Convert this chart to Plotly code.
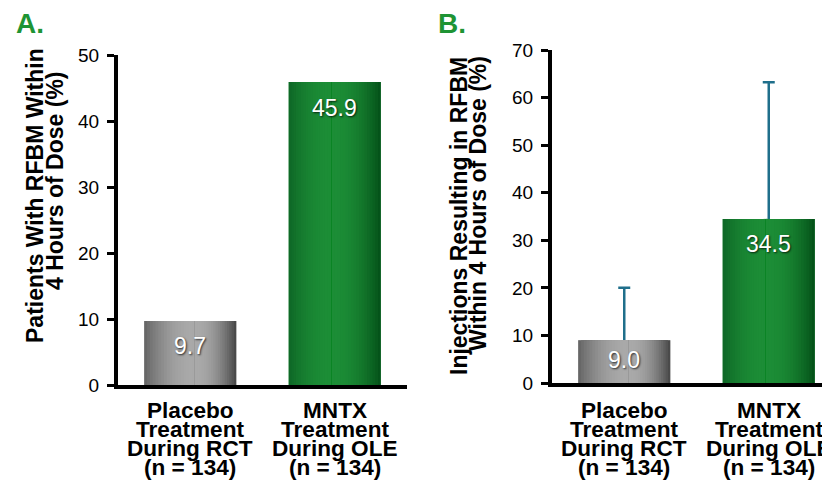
import plotly.graph_objects as go

FIG_W, FIG_H = 830, 485
PAGE_OFF = 8  # the page body margin shifts the figure by this many pixels

# ---------------- data ----------------
categories = ["Placebo Treatment During RCT (n = 134)", "MNTX Treatment During OLE (n = 134)"]
category_label_lines = [
    ["Placebo", "Treatment", "During RCT", "(n = 134)"],
    ["MNTX", "Treatment", "During OLE", "(n = 134)"],
]
patients_rfbm_pct = [9.7, 45.9]
injections_rfbm_pct = [9.0, 34.5]
injections_err_plus = [11.0, 28.7]
patients_labels = ["9.7", "45.9"]
injections_labels = ["9.0", "34.5"]
yticks_a = [0, 10, 20, 30, 40, 50]
yticks_b = [0, 10, 20, 30, 40, 50, 60, 70]
title_a_lines = ["Patients With RFBM Within", "4 Hours of Dose (%)"]
title_b_lines = ["Injections Resulting in RFBM", "Within 4 Hours of Dose (%)"]
panel_letters = ["A.", "B."]

# ---------------- style ----------------
FONT = "Liberation Sans, Arial, Helvetica, sans-serif"
GREEN_TXT = "#1e9434"
ERR_COLOR = "#1f6f8b"
BAR_W = 0.637
# (left edge, peak, right edge, peak position as fraction of bar width)
GRADS = [
    ("#676767", "#a9a9a9", "#4a4a4a", 0.55),
    ("#0f6927", "#1c8d36", "#05531a", 0.47),
]
N_LAYERS = 18

# on-screen pixel geometry of the two plot areas
A_X = (118, 407)
A_Y = (55, 385)
B_X = (552, 838)
B_Y = (50, 383)
CAT_PX = 144.5


def px_x(px):
    return (px - PAGE_OFF) / FIG_W


def px_y(py):
    return 1 - (py - PAGE_OFF) / FIG_H


def hex2rgb(h):
    h = h.lstrip("#")
    return tuple(int(h[i:i + 2], 16) for i in (0, 2, 4))


def lerp(c1, c2, t):
    a, b = hex2rgb(c1), hex2rgb(c2)
    return "rgb(%d,%d,%d)" % tuple(round(a[i] + (b[i] - a[i]) * t) for i in range(3))


fig = go.Figure()


def add_bars(xa, ya, values, err_plus=None):
    base = dict(
        x=categories, y=values, xaxis=xa, yaxis=ya, hoverinfo="skip",
        showlegend=False,
    )
    err = None
    if err_plus is not None:
        err = dict(type="data", symmetric=False, array=err_plus, arrayminus=values,
                   color=ERR_COLOR, thickness=2.5, width=6)
    fig.add_trace(go.Bar(**base, width=BAR_W,
                         marker=dict(color=[g[1] for g in GRADS], line=dict(width=0)),
                         error_y=err))
    eps = 0.006
    for side in ("L", "R"):
        for k in range(N_LAYERS):
            f = k / N_LAYERS
            t = k / (N_LAYERS - 1)
            te = 1 - (1 - t) ** 2  # smooth (rounded) peak
            offs, wids, cols = [], [], []
            for (cl, cp, cr, a) in GRADS:
                if side == "L":
                    offs.append(-BAR_W / 2 + f * a * BAR_W)
                    wids.append(a * BAR_W * (1 - f) + eps)
                    cols.append(lerp(cl, cp, te))
                else:
                    offs.append(-BAR_W / 2 + a * BAR_W)
                    wids.append((1 - a) * BAR_W * (1 - f))
                    cols.append(lerp(cr, cp, te))
            fig.add_trace(go.Bar(**base, offset=offs, width=wids,
                                 marker=dict(color=cols, line=dict(width=0))))


add_bars("x", "y", patients_rfbm_pct)
add_bars("x2", "y2", injections_rfbm_pct, injections_err_plus)

axis_common = dict(showline=True, linecolor="black", linewidth=4, showgrid=False,
                   zeroline=False, fixedrange=True, automargin=False)
yaxis_common = dict(axis_common, ticks="outside", ticklen=7, tickwidth=3, tickcolor="black",
                    tickfont=dict(family=FONT, size=19, color="black"), ticklabelstandoff=4)

fig.update_layout(
    width=FIG_W, height=FIG_H,
    margin=dict(l=0, r=0, t=0, b=0, pad=0, autoexpand=False),
    paper_bgcolor="white", plot_bgcolor="rgba(0,0,0,0)", barmode="overlay",
    showlegend=False,
    xaxis=dict(axis_common, domain=[px_x(A_X[0]), px_x(A_X[1])], type="category",
               range=[-0.5, -0.5 + (A_X[1] - A_X[0]) / CAT_PX], ticks="", showticklabels=False,
               anchor="y"),
    yaxis=dict(yaxis_common, domain=[px_y(A_Y[1]), px_y(A_Y[0])], range=[0, 50],
               tickvals=yticks_a, anchor="x"),
    xaxis2=dict(axis_common, domain=[px_x(B_X[0]), min(1, px_x(B_X[1]))], type="category",
                range=[-0.5, -0.5 + (min(B_X[1], FIG_W + PAGE_OFF) - B_X[0]) / CAT_PX],
                ticks="", showticklabels=False, anchor="y2"),
    yaxis2=dict(yaxis_common, domain=[px_y(B_Y[1]), px_y(B_Y[0])], range=[0, 70],
                tickvals=yticks_b, anchor="x2"),
)

ann = []
# panel letters
for letter, lx in zip(panel_letters, (14, 436)):
    ann.append(dict(text=letter, x=px_x(lx), y=px_y(23), xref="paper", yref="paper",
                    xanchor="left", yanchor="middle", showarrow=False,
                    font=dict(family=FONT, size=28, color=GREEN_TXT, weight="bold")))

# rotated axis titles (two tight lines each)
for lines, centers in ((title_a_lines, [(35, 196), (55, 181)]),
                       (title_b_lines, [(459, 216), (478, 204)])):
    for line, (cx, cy) in zip(lines, centers):
        ann.append(dict(text=line, x=px_x(cx), y=px_y(cy), xref="paper", yref="paper",
                        xanchor="center", yanchor="middle", textangle=-90, showarrow=False,
                        font=dict(family=FONT, size=23, color="black", weight="bold")))

# category labels (tight line spacing)
line_py = [410, 429, 448, 467]
for xr in ("x", "x2"):
    for i, lines in enumerate(category_label_lines):
        for line, py in zip(lines, line_py):
            ann.append(dict(text=line, x=i, y=px_y(py), xref=xr, yref="paper",
                            xanchor="center", yanchor="middle", showarrow=False,
                            font=dict(family=FONT, size=22.6, color="black", weight="bold")))

# value labels inside bars
for xr, yr, vals, labels, (y0, y1), ymax in (
        ("x", "y", patients_rfbm_pct, patients_labels, A_Y, 50),
        ("x2", "y2", injections_rfbm_pct, injections_labels, B_Y, 70)):
    ppu = (y1 - y0) / ymax
    for i, (v, lab) in enumerate(zip(vals, labels)):
        shift = min(25.5, v * ppu / 2 - 2)
        ann.append(dict(text=lab, x=i, y=v, xref=xr, yref=yr, yshift=-shift,
                        xanchor="center", yanchor="middle", showarrow=False,
                        font=dict(family=FONT, size=23, color="white",
                                  shadow="1px 1px 2px rgba(0,0,0,0.75)")))

fig.update_layout(annotations=ann)
fig.write_html("out.html")
